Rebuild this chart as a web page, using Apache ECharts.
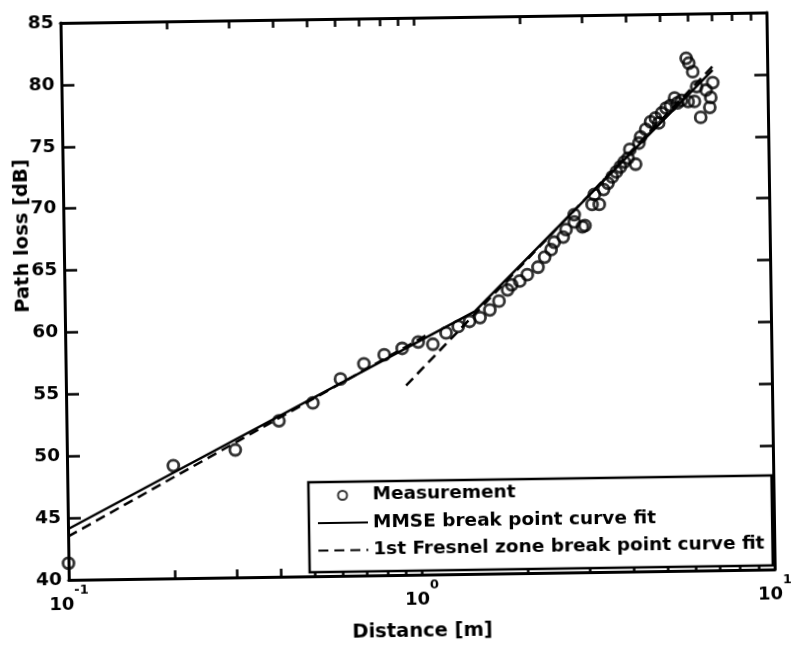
<!DOCTYPE html>
<html>
<head>
<meta charset="utf-8">
<title>Path loss vs distance</title>
<script src="https://cdn.jsdelivr.net/npm/echarts@6/dist/echarts.min.js"></script>
<style>
html, body { margin: 0; padding: 0; background: #fff; overflow: hidden; }
/* the scanned figure is tilted by about one degree */
#main { width: 791px; height: 647px; transform: rotate(-0.85deg); transform-origin: 50% 50%; }
</style>
</head>
<body>
<div id="main"></div>
<script>
// measured points
var distM = [0.1, 0.2, 0.3, 0.4, 0.5, 0.6, 0.7, 0.8, 0.9, 1.0,
    1.1, 1.2, 1.3, 1.4, 1.5, 1.6, 1.7, 1.8, 1.85, 1.95,
    2.05, 2.2, 2.3, 2.4, 2.45, 2.6, 2.65, 2.8, 2.8, 2.95,
    3.0, 3.15, 3.2, 3.3, 3.4, 3.5, 3.6, 3.7, 3.8, 3.9,
    4.0, 4.05, 4.2, 4.3, 4.35, 4.5, 4.65, 4.8, 4.9, 5.0,
    5.15, 5.3, 5.45, 5.55, 5.7, 5.9, 5.95, 6.0, 6.15, 6.2,
    6.3, 6.45, 6.7, 6.85, 6.9, 7.0];
var lossM = [41.35, 49.1, 50.3, 52.6, 54.0, 55.9, 57.1, 57.8, 58.3, 58.8,
    58.6, 59.5, 60.0, 60.4, 60.7, 61.3, 62.0, 62.9, 63.3, 63.6,
    64.1, 64.7, 65.5, 66.1, 66.7, 67.1, 67.7, 68.3, 68.9, 67.9,
    68.0, 69.7, 70.5, 69.7, 70.9, 71.4, 71.9, 72.3, 72.7, 73.1,
    73.4, 74.1, 72.9, 74.6, 75.1, 75.7, 76.3, 76.6, 76.2, 77.0,
    77.4, 77.6, 78.2, 77.8, 78.0, 81.4, 77.9, 81.0, 80.3, 77.9,
    79.1, 76.6, 78.8, 77.4, 78.2, 79.4];

// MMSE break point fit (two straight pieces on log distance)
var mmseDist = [0.1, 1.45, 7.0];
var mmseLoss = [44.1, 61.2, 80.4];

// 1st Fresnel zone break point fit, two separate pieces
var fresDistA = [0.1, 1.05];
var fresLossA = [43.5, 59.3];
var fresDistB = [0.92, 7.0];
var fresLossB = [55.3, 80.7];

// tick marks on the distance axis (1..9 in every decade)
var xTickVals = [0.1, 0.2, 0.3, 0.4, 0.5, 0.6, 0.7, 0.8, 0.9, 1, 2, 3, 4, 5, 6, 7, 8, 9, 10];

var FONT = 'DejaVu Sans, Verdana, sans-serif';

var pairs = function(xs, ys) {
    var out = [];
    for (var i = 0; i < xs.length; i++) {
        out.push([xs[i], ys[i]]);
    }
    return out;
};
// the ticks go on a plain value axis spanning log10(100*d) = 1..3,
// a range without zero so nothing snaps onto it
var xTickPos = xTickVals.map(function(v) { return Math.log(v * 100) / Math.LN10; });

var myChart = echarts.init(document.getElementById('main'));

var dashStyle = { color: '#000', width: 2.5, type: [10, 6] };

var tickAxis = function(pos) {
    return {
        type: 'value',
        min: 1,
        max: 3,
        position: pos,
        axisLine: { show: false },
        axisTick: { show: true, inside: true, length: 8, customValues: xTickPos, lineStyle: { color: '#000', width: 2.5 } },
        axisLabel: { show: false },
        splitLine: { show: false }
    };
};

var option = {
    animation: false,
    backgroundColor: '#fff',
    grid: { left: 65, right: 18, top: 18, bottom: 71 },
    legend: {
        orient: 'vertical',
        left: 306,
        top: 481,
        itemWidth: 50,
        itemHeight: 9,
        itemGap: 8.5,
        padding: [4, 8, 12, 8],
        borderColor: '#000',
        borderWidth: 2.5,
        backgroundColor: '#fff',
        textStyle: { fontFamily: FONT, fontWeight: 'bold', fontSize: 18.5, color: '#000' },
        data: [
            { name: 'Measurement' },
            { name: 'MMSE break point curve fit', itemStyle: { opacity: 0 } },
            { name: '1st Fresnel zone break point curve fit', itemStyle: { opacity: 0 } }
        ]
    },
    xAxis: [{
        type: 'log',
        logBase: 10,
        min: 0.1,
        max: 10,
        position: 'bottom',
        axisLine: { lineStyle: { color: '#000', width: 3 } },
        axisTick: { show: false },
        axisLabel: {
            margin: 4,
            formatter: function(v) {
                var e = Math.round(Math.log(v) / Math.LN10);
                return '{b|10}{s|' + e + '}';
            },
            rich: {
                b: { fontFamily: FONT, fontWeight: 'bold', fontSize: 18, color: '#000', padding: [12, 0, 0, 0], verticalAlign: 'bottom' },
                s: { fontFamily: FONT, fontWeight: 'bold', fontSize: 13, color: '#000', verticalAlign: 'top' }
            }
        },
        splitLine: { show: false },
        name: 'Distance [m]',
        nameLocation: 'middle',
        nameGap: 47,
        nameMoveOverlap: false,
        nameTextStyle: { fontFamily: FONT, fontWeight: 'bold', fontSize: 19.5, color: '#000' }
    }, {
        type: 'log',
        logBase: 10,
        min: 0.1,
        max: 10,
        position: 'top',
        axisLine: { lineStyle: { color: '#000', width: 3 } },
        axisTick: { show: false },
        axisLabel: { show: false },
        splitLine: { show: false }
    },
    tickAxis('bottom'),
    tickAxis('top')],
    yAxis: [{
        type: 'value',
        min: 40,
        max: 85,
        interval: 5,
        position: 'left',
        axisLine: { show: true, lineStyle: { color: '#000', width: 3 } },
        axisTick: { show: true, inside: true, length: 13, lineStyle: { color: '#000', width: 2.5 } },
        axisLabel: { margin: 7, fontFamily: FONT, fontWeight: 'bold', fontSize: 18.5, color: '#000' },
        splitLine: { show: false },
        name: 'Path loss [dB]',
        nameLocation: 'middle',
        nameGap: 31,
        nameMoveOverlap: false,
        nameTextStyle: { fontFamily: FONT, fontWeight: 'bold', fontSize: 19.5, color: '#000', padding: [0, 0, 0, 132] }
    }, {
        type: 'value',
        min: 40,
        max: 85,
        interval: 5,
        position: 'right',
        axisLine: { show: true, lineStyle: { color: '#000', width: 3 } },
        axisTick: { show: true, inside: true, length: 13, lineStyle: { color: '#000', width: 2.5 } },
        axisLabel: { show: false },
        splitLine: { show: false }
    }],
    series: [{
        name: 'Measurement',
        type: 'scatter',
        symbol: 'circle',
        symbolSize: 11,
        itemStyle: { color: 'rgba(0,0,0,0)', borderColor: '#000', borderWidth: 2.8 },
        z: 3,
        data: pairs(distM, lossM)
    }, {
        name: 'MMSE break point curve fit',
        type: 'line',
        showSymbol: false,
        symbol: 'none',
        itemStyle: { color: '#000' },
        lineStyle: { color: '#000', width: 2.5 },
        data: pairs(mmseDist, mmseLoss)
    }, {
        name: '1st Fresnel zone break point curve fit',
        type: 'line',
        showSymbol: false,
        symbol: 'none',
        itemStyle: { color: '#000' },
        lineStyle: dashStyle,
        data: pairs(fresDistA, fresLossA)
    }, {
        name: '1st Fresnel zone break point curve fit',
        type: 'line',
        showSymbol: false,
        symbol: 'none',
        itemStyle: { color: '#000' },
        lineStyle: dashStyle,
        data: pairs(fresDistB, fresLossB)
    }]
};

myChart.setOption(option);
</script>
</body>
</html>
